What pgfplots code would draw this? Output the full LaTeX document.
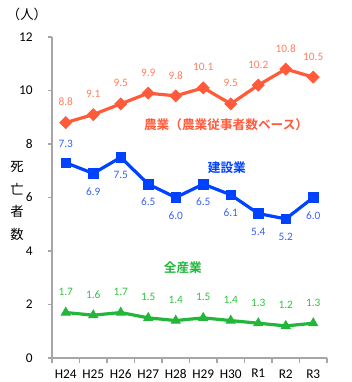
\documentclass[border=0pt]{standalone}
\usepackage{pgfplots}
\pgfplotsset{compat=1.18}
\usepackage{pgfplotstable}
\usepackage{fontspec}
\setmainfont{Carlito}
\newfontfamily\cjk{Noto Sans CJK JP}[BoldFont={Noto Sans CJK JP Bold}]
\definecolor{agri}{HTML}{FF5A3A}
\definecolor{agrilab}{HTML}{FF7F5F}
\definecolor{cons}{HTML}{0042FF}
\definecolor{conslab}{HTML}{3A62F0}
\definecolor{allc}{HTML}{22B63A}
\definecolor{alllab}{HTML}{2EC43E}
\pgfplotstableread{
x y dy
0 8.8 15.5
1 9.1 15.5
2 9.5 15.5
3 9.9 15.5
4 9.8 15.5
5 10.1 15.5
6 9.5 15.5
7 10.2 15.5
8 10.8 15.5
9 10.5 15.5
}\agri
\pgfplotstableread{
x y dy
0 7.3 14
1 6.9 -13.5
2 7.5 -13.5
3 6.5 -13.5
4 6.0 -13.5
5 6.5 -13.5
6 6.1 -13.5
7 5.4 -13.5
8 5.2 -13.5
9 6.0 -13.5
}\cons
\pgfplotstableread{
x y dy
0 1.7 15.5
1 1.6 15.5
2 1.7 15.5
3 1.5 15.5
4 1.4 15.5
5 1.5 15.5
6 1.4 15.5
7 1.3 15.5
8 1.2 15.5
9 1.3 15.5
}\allind
\begin{document}
\begin{tikzpicture}
\useasboundingbox (0,0) rectangle (264pt,286.5pt);
\begin{axis}[
  at={(39pt,18pt)}, anchor=south west,
  scale only axis, width=206.25pt, height=240.75pt,
  xmin=-0.5, xmax=9.5, ymin=0, ymax=12,
  axis x line*=bottom, axis y line*=left,
  axis line style={draw=gray!70, line width=0.8pt},
  xtick={0,...,9},
  xticklabels={H24,H25,H26,H27,H28,H29,H30,R1,R2,R3},
  minor xtick={-0.5,0.5,...,9.5},
  major x tick style={draw=none},
  minor x tick style={draw=gray!70, line width=0.8pt},
  ytick={0,2,...,12},
  ytick style={draw=gray!70, line width=0.8pt},
  tick align=outside,
  major tick length=3pt, minor tick length=4pt,
  /pgf/number format/assume math mode=true,
  tick label style={font=\fontsize{10}{10}\selectfont, black},
  yticklabel style={xshift=-8pt},
  xticklabel style={yshift=-2pt},
  clip=false,
  nodes near coords,
  point meta=explicit,
  nodes near coords style={font=\fontsize{8.5}{8.5}\selectfont, anchor=center,
     /pgf/number format/fixed, /pgf/number format/fixed zerofill, /pgf/number format/precision=1,
     /pgf/number format/assume math mode=true},
  visualization depends on={\thisrow{dy} \as \dy},
]
\addplot[agri, line width=2.4pt, mark=square*, mark size=3.2pt, mark options={rotate=45, line width=0.5pt},
  nodes near coords style={agrilab, yshift=\dy pt}]
  table[x=x, y=y, meta=y] {\agri};
\addplot[cons, line width=2.4pt, mark=square*, mark size=3.6pt, mark options={line width=0.5pt},
  nodes near coords style={conslab, yshift=\dy pt}]
  table[x=x, y=y, meta=y] {\cons};
\addplot[allc, line width=2.4pt, mark=triangle*, mark size=4pt, mark options={line width=0.5pt},
  nodes near coords style={alllab, yshift=\dy pt}]
  table[x=x, y=y, meta=y] {\allind};
\node[font=\cjk\bfseries\fontsize{9.5}{9.5}\selectfont, text=agri] at (axis cs:5.83,8.71) {農業（農業従事者数ベース）};
\node[font=\cjk\bfseries\fontsize{9.5}{9.5}\selectfont, text=cons] at (axis cs:5.86,7.10) {建設業};
\node[font=\cjk\bfseries\fontsize{9.5}{9.5}\selectfont, text=allc] at (axis cs:4.26,3.36) {全産業};
\node[font=\cjk\fontsize{10}{10}\selectfont] at (axis cs:-1.41,12.86) {（人）};
\node[font=\cjk\fontsize{10}{17}\selectfont, align=center] at (axis cs:-1.77,5.87) {死\\亡\\者\\数};
\end{axis}
\end{tikzpicture}
\end{document}
